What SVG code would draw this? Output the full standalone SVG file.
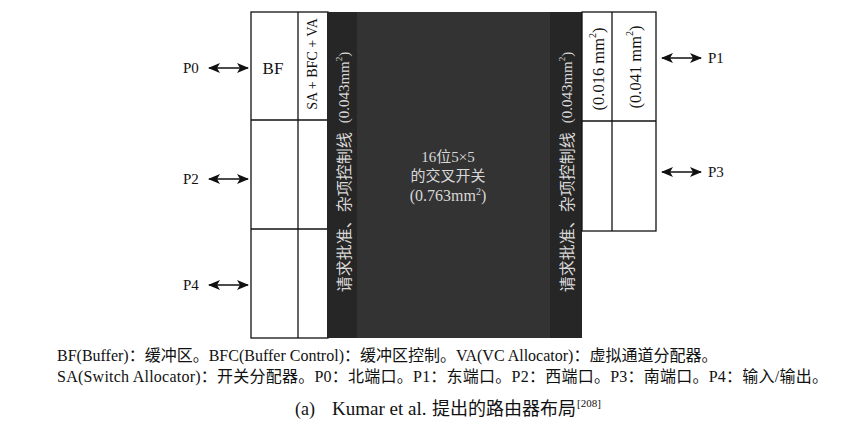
<svg xmlns="http://www.w3.org/2000/svg" width="857" height="445" viewBox="0 0 857 445">
<style>
  .ln{fill:none;stroke:#111;stroke-width:1.3}
  .t{font-family:"Liberation Serif","Noto Sans CJK SC",serif;fill:#111}
  .w{font-family:"Liberation Serif","Noto Sans CJK SC",serif;fill:#d8d8d8}
  .ar{stroke:#111;stroke-width:1.6;fill:none}
</style>
<defs>
  <marker id="ah" viewBox="0 0 12 10" refX="11" refY="5" markerWidth="12" markerHeight="10" markerUnits="userSpaceOnUse" orient="auto-start-reverse">
    <path d="M0,0 L12,5 L0,10 L3,5 Z" fill="#111"/>
  </marker>
</defs>
<rect width="857" height="445" fill="#fff"/>

<g id="left-block">
  <rect class="ln" x="251" y="12" width="77" height="326"/>
  <line class="ln" x1="298" y1="12" x2="298" y2="338"/>
  <line class="ln" x1="251" y1="120" x2="328" y2="120"/>
  <line class="ln" x1="251" y1="229" x2="328" y2="229"/>
  <text class="t" x="273" y="74" font-size="17" text-anchor="middle">BF</text>
  <text class="t" font-size="14" text-anchor="middle" dominant-baseline="central" transform="translate(312,64) rotate(-90)">SA + BFC + VA</text>
</g>

<g id="crossbar">
  <rect x="327" y="12" width="255" height="326" fill="#262626"/>
  <rect x="357" y="12" width="193" height="326" fill="#333333"/>
  <text class="w" x="448" y="162" font-size="15" text-anchor="middle">16位5×5</text>
  <text class="w" x="448" y="181" font-size="15" text-anchor="middle">的交叉开关</text>
  <text class="w" x="448" y="201" font-size="16" text-anchor="middle">(0.763mm<tspan dy="-6" font-size="10">2</tspan><tspan dy="6">)</tspan></text>
  <text class="w" font-size="15" dominant-baseline="central" text-anchor="middle" transform="translate(344,172) rotate(-90)"><tspan font-size="16">请求批准、杂项控制线</tspan><tspan dx="9">(0.043mm</tspan><tspan dy="-5" font-size="9">2</tspan><tspan dy="5">)</tspan></text>
  <text class="w" font-size="15" dominant-baseline="central" text-anchor="middle" transform="translate(567,172) rotate(-90)"><tspan font-size="16">请求批准、杂项控制线</tspan><tspan dx="9">(0.043mm</tspan><tspan dy="-5" font-size="9">2</tspan><tspan dy="5">)</tspan></text>
</g>

<g id="right-block">
  <rect class="ln" x="582" y="12" width="74" height="219"/>
  <line class="ln" x1="612" y1="12" x2="612" y2="231"/>
  <line class="ln" x1="582" y1="121" x2="656" y2="121"/>
  <text class="t" font-size="16.5" dominant-baseline="central" text-anchor="middle" transform="translate(598,69) rotate(-90)">(0.016 mm<tspan dy="-6" font-size="10">2</tspan><tspan dy="6">)</tspan></text>
  <text class="t" font-size="16.5" dominant-baseline="central" text-anchor="middle" transform="translate(635,67) rotate(-90)">(0.041 mm<tspan dy="-6" font-size="10">2</tspan><tspan dy="6">)</tspan></text>
</g>

<g id="ports">
  <text class="t" x="183" y="73" font-size="15">P0</text>
  <text class="t" x="183" y="184" font-size="15">P2</text>
  <text class="t" x="183" y="290" font-size="15">P4</text>
  <text class="t" x="708" y="63" font-size="15">P1</text>
  <text class="t" x="708" y="177" font-size="15">P3</text>
</g>

<g id="connectors">
  <line class="ar" x1="209" y1="68" x2="248" y2="68" marker-start="url(#ah)" marker-end="url(#ah)"/>
  <line class="ar" x1="209" y1="179" x2="248" y2="179" marker-start="url(#ah)" marker-end="url(#ah)"/>
  <line class="ar" x1="209" y1="285" x2="248" y2="285" marker-start="url(#ah)" marker-end="url(#ah)"/>
  <line class="ar" x1="662" y1="58" x2="701" y2="58" marker-start="url(#ah)" marker-end="url(#ah)"/>
  <line class="ar" x1="662" y1="172" x2="701" y2="172" marker-start="url(#ah)" marker-end="url(#ah)"/>
</g>

<g id="legend">
  <text class="t" x="57" y="361" font-size="16">BF(Buffer)：缓冲区。BFC(Buffer Control)：缓冲区控制。VA(VC Allocator)：虚拟通道分配器。</text>
  <text class="t" x="57" y="382" font-size="16" textLength="771" lengthAdjust="spacing">SA(Switch Allocator)：开关分配器。P0：北端口。P1：东端口。P2：西端口。P3：南端口。P4：输入/输出。</text>
  <text class="t" x="295" y="415" font-size="18">(a)</text>
  <text class="t" x="332" y="415" font-size="19">Kumar et al.</text>
  <text class="t" x="432" y="415" font-size="18">提出的路由器布局</text>
  <text class="t" x="577" y="407" font-size="11">[208]</text>
</g>
</svg>
